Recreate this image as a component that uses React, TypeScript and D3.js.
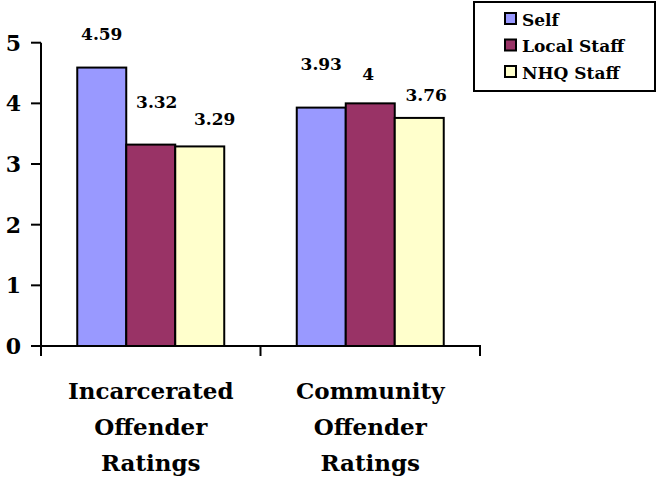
import React from "react";
import * as d3 from "d3";

const categories = ["Incarcerated Offender Ratings", "Community Offender Ratings"];
const categoryLines = [["Incarcerated", "Offender", "Ratings"], ["Community", "Offender", "Ratings"]];
const seriesNames = ["Self", "Local Staff", "NHQ Staff"];
const selfValues = [4.59, 3.93];
const localStaffValues = [3.32, 4];
const nhqStaffValues = [3.29, 3.76];
const yTicks = [0, 1, 2, 3, 4, 5];

const seriesValues = [selfValues, localStaffValues, nhqStaffValues];
const colors = ["#9999FF", "#993366", "#FFFFCC"];
// label placement offsets (layout), [dx, dy] relative to bar top center
const labelOffsets = [
  [[0, -28], [0, -38]],
  [[6, -37], [-2, -23]],
  [[15, -21], [7, -17]],
];

const W = 658;
const H = 480;
const FONT = "'DejaVu Serif', serif";

export default function App() {
  const y = d3.scaleLinear().domain([0, 5]).range([346, 42.7]);
  const x0 = d3.scaleBand<string>().domain(categories).range([41, 480]).padding(0);
  const x1 = d3
    .scaleBand<string>()
    .domain(seriesNames)
    .range([0, x0.bandwidth()])
    .paddingInner(0)
    .paddingOuter(0.74);

  return (
    <div style={{ position: "absolute", left: 0, top: 0 }}>
      <svg width={W} height={H} style={{ display: "block", background: "#fff", fontFamily: FONT, fontWeight: "bold" }}>
        {/* bars */}
        {categories.map((c, ci) =>
          seriesNames.map((s, si) => {
            const v = seriesValues[si][ci];
            const bx = (x0(c) as number) + (x1(s) as number);
            const bw = x1.bandwidth();
            return (
              <rect
                key={c + s}
                x={bx}
                y={y(v)}
                width={bw}
                height={y(0) - y(v)}
                fill={colors[si]}
                stroke="#000"
                strokeWidth={2}
              />
            );
          })
        )}
        {/* value labels */}
        {categories.map((c, ci) =>
          seriesNames.map((s, si) => {
            const v = seriesValues[si][ci];
            const cx = (x0(c) as number) + (x1(s) as number) + x1.bandwidth() / 2;
            const [dx, dy] = labelOffsets[si][ci];
            return (
              <text key={"l" + c + s} x={cx + dx} y={y(v) + dy} textAnchor="middle" fontSize={17}>
                {String(v)}
              </text>
            );
          })
        )}
        {/* y axis */}
        <line x1={41} x2={41} y1={y(5)} y2={356} stroke="#000" strokeWidth={2} />
        {yTicks.map((t) => (
          <g key={"yt" + t}>
            <line x1={31} x2={41} y1={y(t)} y2={y(t)} stroke="#000" strokeWidth={2} />
            <text x={21} y={y(t)} dy="0.36em" textAnchor="end" fontSize={22}>
              {t}
            </text>
          </g>
        ))}
        {/* x axis */}
        <line x1={31} x2={481} y1={y(0)} y2={y(0)} stroke="#000" strokeWidth={2} />
        {[41, ...categories.map((c) => (x0(c) as number) + x0.bandwidth())].map((tx, i) => (
          <line key={"xt" + i} x1={tx} x2={tx} y1={y(0)} y2={356} stroke="#000" strokeWidth={2} />
        ))}
        {categories.map((c, ci) => {
          const cx = (x0(c) as number) + x0.bandwidth() / 2;
          return (
            <text key={"xl" + c} x={cx} y={399} textAnchor="middle" fontSize={23}>
              {categoryLines[ci].map((ln, li) => (
                <tspan key={li} x={cx} y={399 + li * 36}>
                  {ln}
                </tspan>
              ))}
            </text>
          );
        })}
        {/* legend */}
        <rect x={474} y={2} width={181} height={89} fill="#fff" stroke="#000" strokeWidth={2} />
        {seriesNames.map((s, si) => {
          const cy = 18.5 + si * 26.5;
          return (
            <g key={"lg" + s}>
              <rect x={505} y={cy - 5.5} width={11} height={11} fill={colors[si]} stroke="#000" strokeWidth={2} />
              <text x={522} y={cy + 7} fontSize={17}>
                {s}
              </text>
            </g>
          );
        })}
      </svg>
    </div>
  );
}
